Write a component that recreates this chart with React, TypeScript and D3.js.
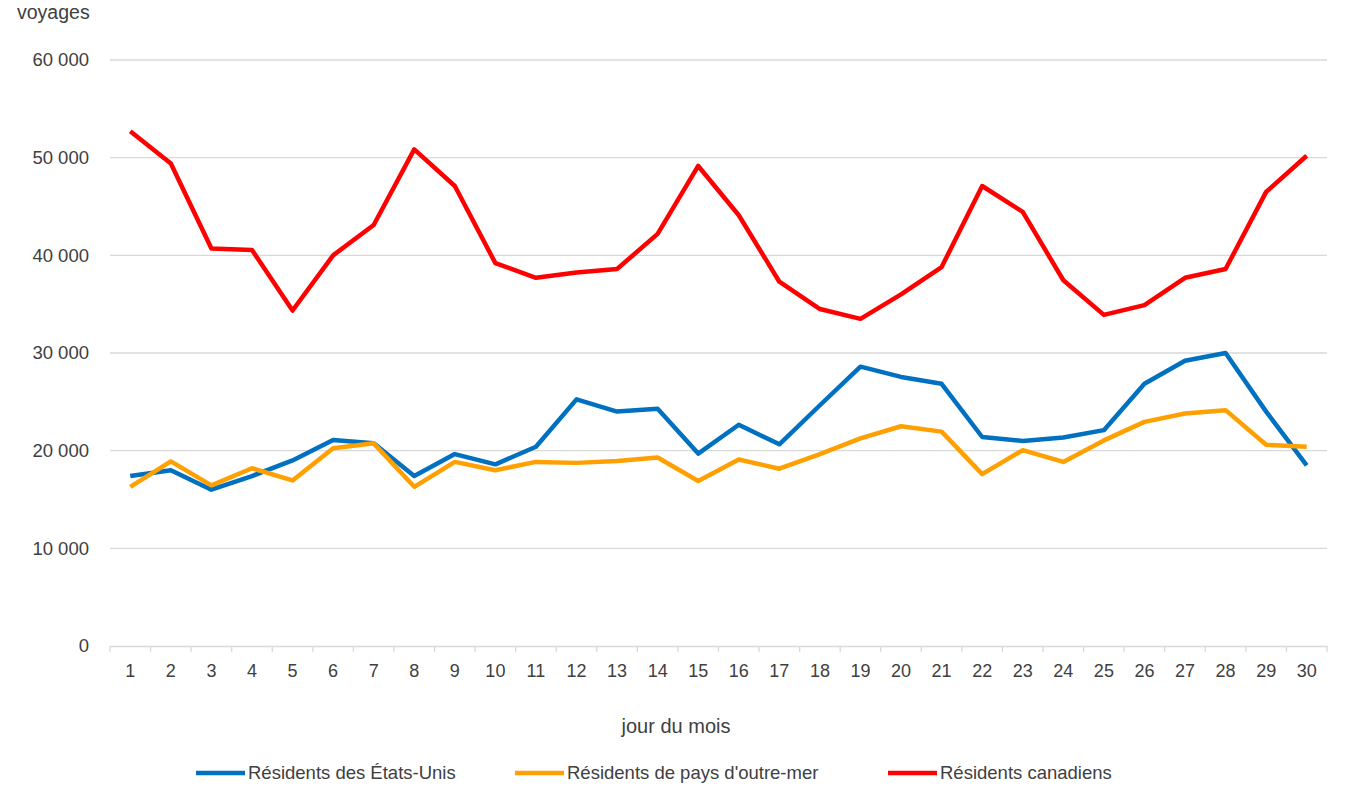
import { useEffect, useRef } from "react"
import * as d3 from "d3"

const days = d3.range(1, 31).map(String)
const yTicks = [0, 10000, 20000, 30000, 40000, 50000, 60000]

const etatsUnis = [
    17400, 18000, 16000, 17400, 19000, 21100, 20750, 17400, 19650, 18600,
    20400, 25250, 24000, 24300, 19700, 22650, 20650, 24650, 28600, 27550,
    26850, 21400, 21000, 21350, 22100, 26850, 29200, 30000, 24000, 18500,
]
const outreMer = [
    16300, 18900, 16450, 18200, 16950, 20250, 20750, 16300, 18850, 18000,
    18850, 18750, 18950, 19300, 16900, 19100, 18150, 19650, 21250, 22500,
    21950, 17600, 20050, 18850, 21050, 22950, 23800, 24150, 20600, 20400,
]
const canadiens = [
    52700, 49400, 40700, 40550, 34350, 40000, 43100, 50850, 47100, 39200,
    37700, 38250, 38600, 42200, 49150, 44100, 37300, 34500, 33500, 36000,
    38800, 47100, 44450, 37450, 33900, 34900, 37700, 38600, 46500, 50200,
]

const seriesNames = ["Résidents des États-Unis", "Résidents de pays d'outre-mer", "Résidents canadiens"]
const seriesColors = ["#0070C0", "#FFA000", "#FF0000"]

export default function App() {
    const svgRef = useRef(null)

    useEffect(() => {
        const width = 1367
        const height = 786
        const margin = { top: 60, right: 40, bottom: 140, left: 110 }
        const font = "'Liberation Sans', Arial, sans-serif"
        const textColor = "#404040"

        d3.select(svgRef.current).selectAll("*").remove()
        const svg = d3
            .select(svgRef.current)
            .attr("width", width)
            .attr("height", height)
            .style("font-family", font)

        const x = d3
            .scaleBand()
            .domain(days)
            .range([margin.left, width - margin.right])

        const y = d3
            .scaleLinear()
            .domain([0, 60000])
            .range([height - margin.bottom, margin.top])

        const fmt = (v) => d3.format(",")(v).replace(/,/g, " ")

        // grid lines
        svg
            .append("g")
            .selectAll("line")
            .data(yTicks.filter((d) => d > 0))
            .enter()
            .append("line")
            .attr("x1", margin.left)
            .attr("x2", width - margin.right)
            .attr("y1", (d) => y(d))
            .attr("y2", (d) => y(d))
            .attr("stroke", "#d9d9d9")
            .attr("stroke-width", 1.3)

        // y labels
        svg
            .append("g")
            .selectAll("text")
            .data(yTicks)
            .enter()
            .append("text")
            .attr("x", 89)
            .attr("y", (d) => y(d))
            .attr("dy", "0.35em")
            .attr("text-anchor", "end")
            .attr("font-size", 18.5)
            .attr("fill", textColor)
            .text((d) => fmt(d))

        svg
            .append("text")
            .attr("x", 17)
            .attr("y", 19)
            .attr("font-size", 19.5)
            .attr("fill", textColor)
            .text("voyages")

        // x axis
        const xAxis = svg
            .append("g")
            .attr("transform", `translate(0,${y(0)})`)
            .call(d3.axisBottom(x).tickSize(0).tickPadding(18))
        xAxis.select(".domain").attr("stroke", "#d9d9d9").attr("stroke-width", 1.3)
        xAxis
            .selectAll("text")
            .attr("font-size", 18)
            .attr("fill", textColor)
            .attr("font-family", font)

        svg
            .append("g")
            .selectAll("line")
            .data(days.concat(["end"]))
            .enter()
            .append("line")
            .attr("x1", (d, i) => margin.left + i * x.bandwidth())
            .attr("x2", (d, i) => margin.left + i * x.bandwidth())
            .attr("y1", y(0))
            .attr("y2", y(0) + 6)
            .attr("stroke", "#d9d9d9")
            .attr("stroke-width", 1.3)

        svg
            .append("text")
            .attr("x", 676)
            .attr("y", 733)
            .attr("text-anchor", "middle")
            .attr("font-size", 20)
            .attr("fill", textColor)
            .text("jour du mois")

        // lines
        const line = d3
            .line()
            .x((d, i) => x(days[i]) + x.bandwidth() / 2)
            .y((d) => y(d))

        ;[etatsUnis, outreMer, canadiens].forEach((s, i) => {
            svg
                .append("path")
                .datum(s)
                .attr("d", line)
                .attr("fill", "none")
                .attr("stroke", seriesColors[i])
                .attr("stroke-width", 4.5)
                .attr("stroke-linejoin", "round")
        })

        // legend
        const legendX = [196, 515, 888]
        const legend = svg
            .append("g")
            .selectAll("g")
            .data(seriesNames)
            .enter()
            .append("g")
            .attr("transform", (d, i) => `translate(${legendX[i]},773)`)
        legend
            .append("line")
            .attr("x1", 0)
            .attr("x2", 49)
            .attr("stroke", (d, i) => seriesColors[i])
            .attr("stroke-width", 4.5)
        legend
            .append("text")
            .attr("x", 52)
            .attr("dy", "0.35em")
            .attr("font-size", 18.5)
            .attr("fill", textColor)
            .text((d) => d)
    }, [])

    return (
        <div style={{ position: "absolute", left: 0, top: 0 }}>
            <svg ref={svgRef}></svg>
        </div>
    )
}
